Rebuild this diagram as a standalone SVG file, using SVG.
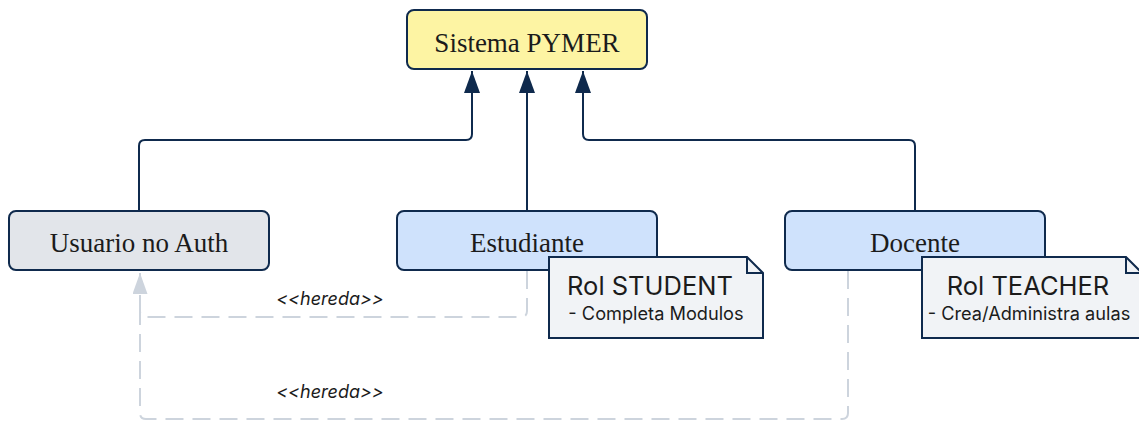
<svg xmlns="http://www.w3.org/2000/svg" width="1139" height="422" viewBox="0 0 1139 422">
  <style>
    .box { stroke: #0f2a4d; stroke-width: 2; }
    .sys { fill: #fdf4a3; }
    .role { fill: #cfe2fc; }
    .anon { fill: #e2e5ea; }
    .label { font-family: "Liberation Serif", "DejaVu Serif", serif; font-size: 27px; fill: #1b1b1b; text-anchor: middle; }
    .link { fill: none; stroke: #0f2a4d; stroke-width: 2; }
    .inherit { fill: none; stroke: #cdd4dd; stroke-width: 2; stroke-dasharray: 18 9; }
    .stereo { font-family: Inter, "Liberation Sans", sans-serif; font-style: italic; font-size: 18px; fill: #1b1b1b; text-anchor: middle; }
    .note { fill: #f1f3f6; stroke: #0f2a4d; stroke-width: 2; stroke-linejoin: miter; }
    .fold { fill: none; stroke: #0f2a4d; stroke-width: 2; }
    .note-title { font-family: Inter, "Liberation Sans", sans-serif; font-size: 25.5px; fill: #1b1b1b; text-anchor: middle; }
    .note-line { font-family: Inter, "Liberation Sans", sans-serif; font-size: 18.2px; fill: #1b1b1b; text-anchor: middle; }
  </style>
  <defs>
    <marker id="arrow-solid" markerUnits="userSpaceOnUse" markerWidth="22" markerHeight="16" viewBox="0 0 22 16" refX="22" refY="8" orient="auto">
      <path d="M0,0 L22,8 L0,16 Z" fill="#0f2a4d"/>
    </marker>
    <marker id="arrow-light" markerUnits="userSpaceOnUse" markerWidth="21" markerHeight="15" viewBox="0 0 21 15" refX="21" refY="7.5" orient="auto">
      <path d="M0,0 L21,7.5 L0,15 Z" fill="#cdd4dd"/>
    </marker>
  </defs>

  <!-- connectors -->
  <g id="connectors">
    <path class="link" d="M139,211 V146 Q139,140 145,140 H466 Q472,140 472,134 V71" marker-end="url(#arrow-solid)"/>
    <path class="link" d="M527,211 V71" marker-end="url(#arrow-solid)"/>
    <path class="link" d="M915,211 V146 Q915,140 909,140 H589 Q583,140 583,134 V71" marker-end="url(#arrow-solid)"/>

    <path class="inherit" d="M527,271 V311 Q527,317 521,317 H146 Q140,317 140,311 V273" marker-end="url(#arrow-light)"/>
    <path class="inherit" d="M848,271 V413 Q848,419 842,419 H146 Q140,419 140,413 V300"/>
    <text class="stereo" x="330" y="305">&lt;&lt;hereda&gt;&gt;</text>
    <text class="stereo" x="330" y="398">&lt;&lt;hereda&gt;&gt;</text>
  </g>

  <g id="sistema">
    <rect class="box sys" x="407" y="10" width="240" height="59" rx="7"/>
    <text class="label" x="527" y="51.5">Sistema PYMER</text>
  </g>

  <g id="usuario">
    <rect class="box anon" x="9" y="211" width="260" height="59" rx="7"/>
    <text class="label" x="139" y="251.5">Usuario no Auth</text>
  </g>

  <g id="estudiante">
    <rect class="box role" x="397" y="211" width="260" height="59" rx="7"/>
    <text class="label" x="527" y="251.5">Estudiante</text>
  </g>

  <g id="docente">
    <rect class="box role" x="785" y="211" width="260" height="59" rx="7"/>
    <text class="label" x="915" y="251.5">Docente</text>
  </g>

  <g id="note-student">
    <path class="note" d="M549,257 H747 L763,273 V338 H549 Z"/>
    <path class="fold" d="M747,257 V273 H763"/>
    <text class="note-title" x="650" y="295">Rol STUDENT</text>
    <text class="note-line" x="656" y="320">- Completa Modulos</text>
  </g>

  <g id="note-teacher">
    <path class="note" d="M922,257 H1126 L1142,273 V338 H922 Z"/>
    <path class="fold" d="M1126,257 V273 H1142"/>
    <text class="note-title" x="1028" y="295">Rol TEACHER</text>
    <text class="note-line" x="1029" y="320">- Crea/Administra aulas</text>
  </g>
</svg>
